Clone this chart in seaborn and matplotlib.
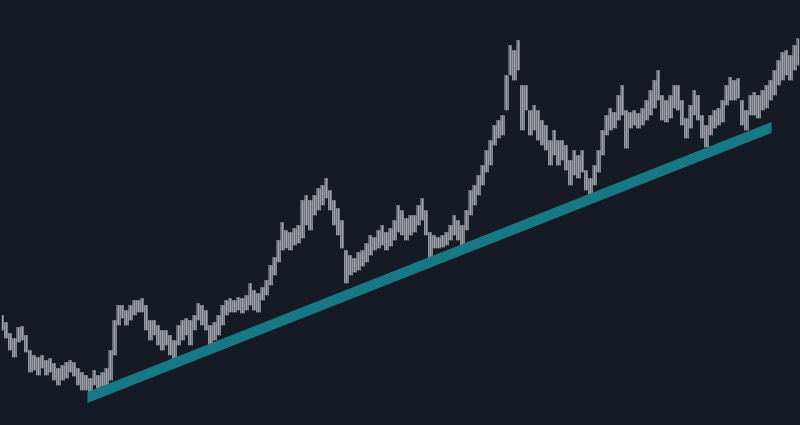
import numpy as np
import pandas as pd
import matplotlib
matplotlib.use("Agg")
import matplotlib.pyplot as plt
import seaborn as sns

# Price bars (high / low)
highs = [110,103,92,87,98,99,90,75,70,68,70,65,67,62,57,60,63,65,63,57,
         53,50,47,55,50,53,57,75,105,120,120,115,120,125,125,127,120,105,105,100,
         95,95,90,85,100,105,107,105,110,122,120,115,100,103,110,120,125,127,125,128,
         127,130,142,135,132,138,145,160,168,185,203,195,193,197,200,225,230,225,230,237,
         240,247,235,225,217,205,175,170,167,173,175,182,190,188,195,200,193,197,205,220,
         215,207,210,210,220,227,215,193,190,188,190,193,200,210,205,200,215,235,240,250,
         260,275,285,300,305,310,350,380,375,385,340,340,315,320,315,305,300,285,295,285,
         285,280,265,275,270,275,255,247,260,275,295,310,317,313,330,340,315,313,315,312,
         317,325,335,345,355,330,325,330,340,340,325,307,320,335,330,310,300,310,315,317,
         325,340,348,345,347,325,315,330,333,330,335,340,345,355,365,373,375,370,380,387]
lows = [95,87,75,68,83,85,73,53,55,50,57,50,53,45,40,45,47,53,49,40,
        35,35,32,40,37,39,40,45,70,100,107,100,105,110,113,113,95,85,90,80,
        75,80,70,65,80,85,90,80,95,105,100,95,80,85,90,100,110,113,113,115,
        112,115,120,115,113,125,130,140,150,163,175,177,175,180,182,187,200,195,210,215,
        220,227,215,200,190,177,142,150,153,155,159,163,170,175,177,180,175,179,185,193,
        190,185,190,193,200,205,190,162,177,177,178,180,185,190,185,178,195,210,220,230,
        240,253,260,280,287,290,315,350,345,355,295,315,290,295,285,280,275,260,270,260,
        265,255,240,250,247,253,235,228,240,253,270,290,295,297,305,310,277,297,300,297,
        300,305,310,317,325,305,303,307,317,315,300,287,297,310,305,287,278,290,297,300,
        303,320,325,325,327,300,295,310,310,307,315,317,325,330,340,345,350,345,355,360]
bar_index = np.arange(len(highs))

# Support trendline (start / end)
trend_index = [21.25, 192.25]
trend_price = [28, 298]
trend_half_width = 5.5

BG = "#161a25"
BAR_COLOR = "#a3a6ad"
TREND_COLOR = "#187884"

sns.set_theme(style="dark", rc={"axes.facecolor": BG, "figure.facecolor": BG})

fig = plt.figure(figsize=(8, 4.25), dpi=100)
ax = fig.add_axes([0, 0, 1, 1])
ax.set_facecolor(BG)

df = pd.DataFrame({"i": bar_index, "high": highs, "low": lows})
# dense band of thin high-low bars
ax.fill_between(df["i"], df["low"], df["high"], step="mid",
                color=BAR_COLOR, alpha=0.55, linewidth=0)
ax.vlines(df["i"], df["low"], df["high"], color=BAR_COLOR, linewidth=1.0)
nxt_low = df["low"].shift(-1).fillna(df["low"])
nxt_high = df["high"].shift(-1).fillna(df["high"])
ax.vlines(df["i"] + 0.5, np.minimum(df["low"], nxt_low), np.minimum(df["high"], nxt_high),
          color=BAR_COLOR, linewidth=0.7, alpha=0.8)

tdf = pd.DataFrame({"i": trend_index, "p": trend_price})
ax.fill_between(tdf["i"], tdf["p"] - trend_half_width, tdf["p"] + trend_half_width,
                color=TREND_COLOR, linewidth=0, zorder=3)

ax.set_xlim(-0.5, len(highs) - 0.5)
ax.set_ylim(0, 425)
ax.set_xticks([])
ax.set_yticks([])
ax.grid(False)
for s in ax.spines.values():
    s.set_visible(False)

fig.savefig("out.png", dpi=100, facecolor=BG)
